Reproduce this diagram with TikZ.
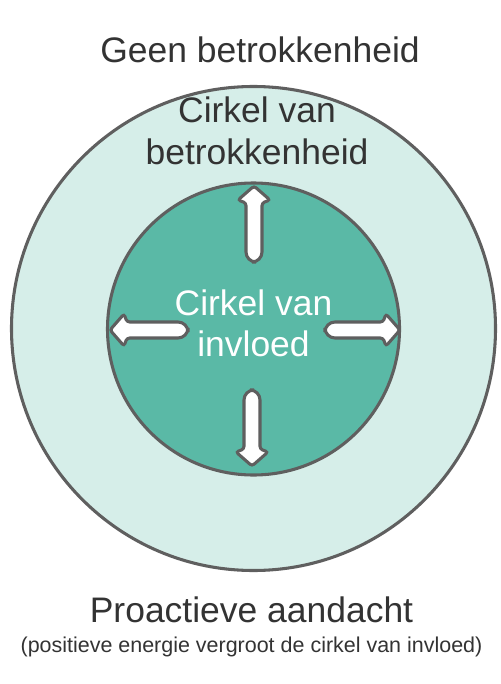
\documentclass[tikz,border=0pt]{standalone}
\usepackage{fontspec}
\setmainfont{Liberation Sans}
\definecolor{lichtmint}{RGB}{214,238,233}
\definecolor{groenblauw}{RGB}{90,185,166}
\definecolor{randgrijs}{RGB}{95,95,95}
\definecolor{tekstgrijs}{RGB}{51,51,51}
\tikzset{every picture/.style={line width=0.75pt}}
\tikzset{
  cirkel/.style={draw=randgrijs, line width=2.3pt},
  pijl/.style={draw=randgrijs, fill=white, line width=2.3pt},
  grotetekst/.style={anchor=base, inner sep=0.75pt, font=\fontsize{26.6}{32}\selectfont, text=tekstgrijs},
  kleinetekst/.style={anchor=base, inner sep=0.75pt, font=\fontsize{16.1}{19}\selectfont, text=tekstgrijs}
}
% blokpijl: punt op (0,0), wijst omhoog, lengte #1
\newcommand{\blokpijl}[1]{(0,0) [rounded corners=2] -- (16,14) -- (8,17) [rounded corners=7.5] -- (8,#1) -- (-8,#1) [rounded corners=2] -- (-8,17) -- (-16,14) -- cycle}

\begin{document}
\begin{tikzpicture}[x=0.75pt,y=0.75pt,yscale=-1,xscale=1]
\useasboundingbox (0,0) rectangle (500,684);

%Shape: Circle, cirkel van betrokkenheid
\draw [cirkel, fill=lichtmint] (253.5,328.5) circle (242);
%Shape: Circle, cirkel van invloed
\draw [cirkel, fill=groenblauw] (253.5,329) circle (146);

%Shapes: pijlen naar buiten
\draw [pijl, shift={(254,186)}] \blokpijl{76};
\draw [pijl, shift={(252,466)}, rotate=180] \blokpijl{76};
\draw [pijl, shift={(110,330)}, rotate=-90] \blokpijl{78};
\draw [pijl, shift={(400,330)}, rotate=90] \blokpijl{75};

% Text Node
\node [grotetekst] (geen) at (260,63) {Geen betrokkenheid};
% Text Node
\node [grotetekst] (betrok1) at (257,123) {Cirkel van};
% Text Node
\node [grotetekst] (betrok2) at (257,165) {betrokkenheid};
% Text Node
\node [grotetekst, text=white] (invloed1) at (253.5,315) {Cirkel van};
% Text Node
\node [grotetekst, text=white] (invloed2) at (253.5,356) {invloed};
% Text Node
\node [grotetekst] (proactief) at (251.5,622) {Proactieve aandacht};
% Text Node
\node [kleinetekst] (uitleg) at (251.5,652) {(positieve energie vergroot de cirkel van invloed)};
\end{tikzpicture}
\end{document}
